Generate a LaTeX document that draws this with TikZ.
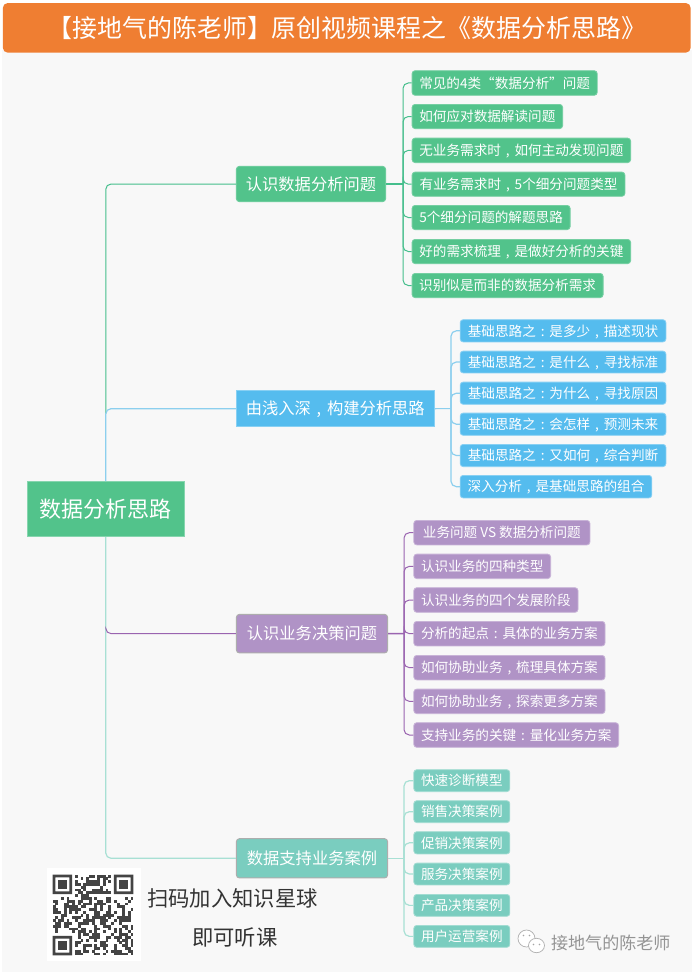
\documentclass[tikz,border=0pt]{standalone}
\usepackage{fontspec}
\setmainfont{Noto Sans CJK SC}
\definecolor{cOrange}{HTML}{EF7E32}
\definecolor{cBg}{HTML}{F8F8F8}
\definecolor{cGreen}{HTML}{52C38B}
\definecolor{cBlue}{HTML}{55BCEE}
\definecolor{cPurple}{HTML}{B093C6}
\definecolor{cTeal}{HTML}{7ACDBF}
\definecolor{lGreen}{HTML}{45BE8C}
\definecolor{lBlue}{HTML}{8CCFEE}
\definecolor{lPurple}{HTML}{9A64B0}
\definecolor{lTeal}{HTML}{A8E0D4}
\definecolor{cQR}{HTML}{444444}
\newcommand{\cm}{\makebox[1em][c]{,}}
\newcommand{\cl}{\makebox[1em][c]{:}}
\tikzset{
  base/.style={inner sep=0pt,align=center,text=white},
  titlebox/.style={base,fill=cOrange,rounded corners=3.5pt,font=\fontsize{18.7pt}{20pt}\selectfont,text height=16.4pt,text depth=2.3pt},
  rootbox/.style={base,fill=cGreen,draw=cGreen!70!white,line width=.6pt,font=\fontsize{16.5pt}{18pt}\selectfont,text height=14.5pt,text depth=2pt},
  mainb/.style={base,rounded corners=2.2pt,line width=.7pt,font=\fontsize{12.2pt}{14pt}\selectfont,text height=10.7pt,text depth=1.5pt},
  subb/.style={base,rounded corners=2.2pt,line width=.6pt,font=\fontsize{10.2pt}{12pt}\selectfont,text height=9pt,text depth=1.2pt},
  mGreen/.style={mainb,fill=cGreen,draw=cGreen!85!white},
  mBlue/.style={mainb,fill=cBlue,draw=cBlue!70!white,rounded corners=0pt},
  mPurple/.style={mainb,fill=cPurple,draw=black!32},
  mTeal/.style={mainb,fill=cTeal,draw=black!32},
  sGreen/.style={subb,fill=cGreen,draw=cGreen!80!white},
  sBlue/.style={subb,fill=cBlue,draw=cBlue!70!white},
  sPurple/.style={subb,fill=cPurple,draw=cPurple!70!white},
  sTeal/.style={subb,fill=cTeal,draw=cTeal!70!white},
  conn/.style={rounded corners=4pt,line width=.75pt},
  connG/.style={conn,draw=lGreen},
  connB/.style={conn,draw=lBlue,line width=.9pt},
  connP/.style={conn,draw=lPurple},
  connT/.style={conn,draw=lTeal,line width=.9pt},
  plainT/.style={inner sep=0pt,font=\fontsize{16pt}{18pt}\selectfont,text=black!80},
  markT/.style={inner sep=0pt,font=\fontsize{12.8pt}{14pt}\selectfont,text=black!42},
  icon/.style={draw=black!30,fill=white,line width=.55pt}
}
\newcommand{\bx}[7]{\node[#2,minimum width={(#5-#3-0.8)*0.75pt},minimum height={(#6-#4-0.8)*0.75pt}] (#1) at ({(#3+#5)/2},{(#4+#6)/2}) {#7};}
\begin{document}
\begin{tikzpicture}[x=0.75pt,y=-0.75pt]
\useasboundingbox (0,0) rectangle (692,974);
\fill[white] (0,0) rectangle (692,974);
\fill[cBg] (1.5,50) rectangle (691.5,972);
\bx{title}{titlebox}{2.5}{2.7}{691}{53}{【接地气的陈老师】原创视频课程之《数据分析思路》}

% nodes
\bx{root}{rootbox}{26.5}{481}{185}{537}{数据分析思路}
\bx{mg}{mGreen}{236}{166}{386}{202}{认识数据分析问题}
\bx{mb}{mBlue}{236}{390}{434.5}{427.3}{由浅入深\cm 构建分析思路}
\bx{mp}{mPurple}{236}{614}{388}{653.3}{认识业务决策问题}
\bx{mt}{mTeal}{236}{838.3}{388}{878.3}{数据支持业务案例}

\bx{g1}{sGreen}{411.7}{70.3}{597.6}{95.7}{常见的4类“数据分析”问题}
\bx{g2}{sGreen}{411.7}{104}{563}{129}{如何应对数据解读问题}
\bx{g3}{sGreen}{411.7}{137.7}{631}{163}{无业务需求时\cm 如何主动发现问题}
\bx{g4}{sGreen}{411.7}{171.7}{625.3}{196.7}{有业务需求时\cm 5个细分问题类型}
\bx{g5}{sGreen}{411.7}{205}{570.5}{230}{5个细分问题的解题思路}
\bx{g6}{sGreen}{411.7}{239}{631}{264}{好的需求梳理\cm 是做好分析的关键}
\bx{g7}{sGreen}{411.7}{273}{603.5}{298}{识别似是而非的数据分析需求}

\bx{b1}{sBlue}{459.8}{319.3}{666.3}{342.3}{基础思路之\cl 是多少\cm 描述现状}
\bx{b2}{sBlue}{459.8}{350.7}{666.3}{373.3}{基础思路之\cl 是什么\cm 寻找标准}
\bx{b3}{sBlue}{459.8}{381.7}{666.3}{404.7}{基础思路之\cl 为什么\cm 寻找原因}
\bx{b4}{sBlue}{459.8}{412.7}{666.3}{435.7}{基础思路之\cl 会怎样\cm 预测未来}
\bx{b5}{sBlue}{459.8}{444}{666.3}{467}{基础思路之\cl 又如何\cm 综合判断}
\bx{b6}{sBlue}{459.8}{475}{652.2}{498.3}{深入分析\cm 是基础思路的组合}

\bx{p1}{sPurple}{413.4}{520}{590.3}{545.3}{业务问题 VS 数据分析问题}
\bx{p2}{sPurple}{413.4}{553.7}{551}{579}{认识业务的四种类型}
\bx{p3}{sPurple}{413.4}{587.3}{578.4}{612.7}{认识业务的四个发展阶段}
\bx{p4}{sPurple}{413.4}{621}{605.4}{646.3}{分析的起点\cl 具体的业务方案}
\bx{p5}{sPurple}{413.4}{655}{605.4}{680.3}{如何协助业务\cm 梳理具体方案}
\bx{p6}{sPurple}{413.4}{688.7}{605.4}{714}{如何协助业务\cm 探索更多方案}
\bx{p7}{sPurple}{413.4}{722.3}{619}{747.7}{支持业务的关键\cl 量化业务方案}

\bx{t1}{sTeal}{413.4}{769.3}{510.2}{792}{快速诊断模型}
\bx{t2}{sTeal}{413.4}{800.3}{510.2}{823}{销售决策案例}
\bx{t3}{sTeal}{413.4}{831.3}{510.2}{854.3}{促销决策案例}
\bx{t4}{sTeal}{413.4}{862.7}{510.2}{885.3}{服务决策案例}
\bx{t5}{sTeal}{413.4}{894}{510.2}{916.7}{产品决策案例}
\bx{t6}{sTeal}{413.4}{925}{510.2}{947.7}{用户运营案例}

% connectors
\coordinate (jg) at (root.north |- mb.west);
\coordinate (jgs) at ([yshift=-3.75pt]jg);
\coordinate (jp) at (root.south |- mp.west);
\coordinate (jps) at ([yshift=3.75pt]jp);
\draw[connG] (jgs) |- (mg.west);
\draw[connB] (root.north) |- (mb.west);
\draw[connT] (root.south) |- (mt.west);
\draw[connP] (jps) |- (mp.west);
\coordinate (tg) at (403,184);
\coordinate (tb) at (451,408.6);
\coordinate (tp) at (404,633.6);
\coordinate (tt) at (404,858.3);
\draw[connG,line width=1.1pt] (mg.east) -- (tg);
\foreach \n in {g1,g2,g3,g4,g5,g6,g7} {\draw[connG] (tg) |- (\n.west);}
\draw[connB] (mb.east) -- (tb);
\foreach \n in {b1,b2,b3,b4,b5,b6} {\draw[connB] (tb) |- (\n.west);}
\draw[connP,line width=1.1pt] (mp.east) -- (tp);
\foreach \n in {p1,p2,p3,p4,p5,p6,p7} {\draw[connP] (tp) |- (\n.west);}
\draw[connT] (mt.east) -- (tt);
\foreach \n in {t1,t2,t3,t4,t5,t6} {\draw[connT] (tt) |- (\n.west);}

% QR
\fill[white] (47,868) rectangle (140.7,960.7);
\pgfmathsetseed{4711}
\def\qm{2.78}
\begin{scope}[shift={(52.7,874.7)}]
\foreach \r in {0,...,28} {\foreach \c in {0,...,28} {
  \pgfmathsetmacro{\skip}{int((\r<8 && \c<8) || (\r<8 && \c>20) || (\r>20 && \c<8))}
  \pgfmathsetmacro{\on}{int(rnd<0.52)}
  \ifnum\skip=0 \ifnum\on=1
    \fill[cQR] ({\c*\qm},{\r*\qm}) rectangle ({(\c+1)*\qm+.1},{(\r+1)*\qm+.1});
  \fi\fi
}}
\foreach \ox/\oy in {0/0,22/0,0/22} {
  \fill[cQR,even odd rule] ({\ox*\qm},{\oy*\qm}) rectangle ({(\ox+7)*\qm},{(\oy+7)*\qm})
     ({(\ox+1)*\qm},{(\oy+1)*\qm}) rectangle ({(\ox+6)*\qm},{(\oy+6)*\qm});
  \fill[cQR] ({(\ox+2)*\qm},{(\oy+2)*\qm}) rectangle ({(\ox+5)*\qm},{(\oy+5)*\qm});
}
\end{scope}

\node[plainT,anchor=west] (scan) at (147,898) {扫码加入知识星球};
\node[plainT,anchor=west] (listen) at (192,937) {即可听课};

% watermark
\draw[icon] (526.5,938.5) ellipse (8.5 and 8.5);
\fill[black!35] (523.5,935.5) circle (.9) (529.5,935.5) circle (.9);
\draw[icon] (536.5,945.5) ellipse (8 and 7.2);
\fill[black!35] (533.5,944.5) circle (.9) (539.5,944.5) circle (.9);
\node[markT,anchor=west] (mark) at (550.8,943) {接地气的陈老师};
\end{tikzpicture}
\end{document}
